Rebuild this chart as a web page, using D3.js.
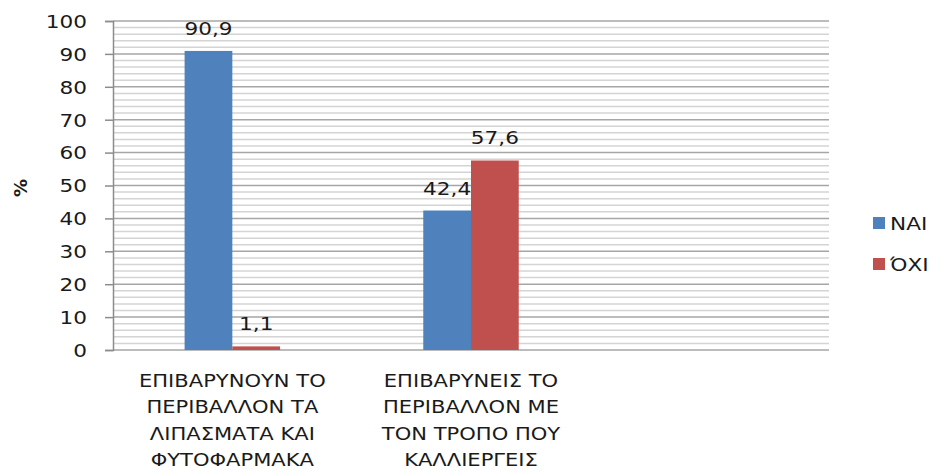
<!DOCTYPE html>
<html>
<head>
<meta charset="utf-8">
<script src="https://cdn.jsdelivr.net/npm/d3@7"></script>
<style>
  body { margin: 0; background: #fff; }
  text { font-family: "DejaVu Sans", sans-serif; fill: #1a1a1a; }
</style>
</head>
<body>
<div id="chart"></div>
<script>
// Data --------------------------------------------------------------------------------------------
const categories = [
  ["ΕΠΙΒΑΡΥΝΟΥΝ ΤΟ", "ΠΕΡΙΒΑΛΛΟΝ ΤΑ", "ΛΙΠΑΣΜΑΤΑ ΚΑΙ", "ΦΥΤΟΦΑΡΜΑΚΑ"],
  ["ΕΠΙΒΑΡΥΝΕΙΣ ΤΟ", "ΠΕΡΙΒΑΛΛΟΝ ΜΕ", "ΤΟΝ ΤΡΟΠΟ ΠΟΥ", "ΚΑΛΛΙΕΡΓΕΙΣ"],
  []
];
const seriesNames = ["ΝΑΙ", "ΌΧΙ"];
const naiValues = [90.9, 42.4, null];
const oxiValues = [1.1, 57.6, null];
const yTicks = [0, 10, 20, 30, 40, 50, 60, 70, 80, 90, 100];
const colors = ["#4f81bd", "#c0504d"];

// Canvas ------------------------------------------------------------------------------------------
const canvasWidth = 935;
const canvasHeight = 475;
const leftPadding = 113;
const rightEdge = 829;
const topPadding = 21;
const bottomEdge = 350;

const fontSize = 18;
const stretch = 1.2;      // the source text is drawn horizontally widened
const labelStretch = 1.17;

const svg = d3.select("#chart")
  .append("svg")
  .attr("width", canvasWidth)
  .attr("height", canvasHeight);

const catIndex = categories.map((d, i) => i);
const xScale = d3.scaleBand()
  .domain(catIndex)
  .range([leftPadding, rightEdge])
  .padding(0);
const xInner = d3.scaleBand()
  .domain(seriesNames)
  .range([xScale.bandwidth() * 0.3, xScale.bandwidth() * 0.7])
  .padding(0);
const yScale = d3.scaleLinear()
  .domain([0, 100])
  .range([bottomEdge, topPadding]);

// Grid --------------------------------------------------------------------------------------------
const minorTicks = d3.range(0, 101, 2).filter(v => v % 10 !== 0);
svg.append("g")
  .selectAll("line")
  .data(minorTicks)
  .join("line")
  .attr("x1", leftPadding)
  .attr("x2", rightEdge)
  .attr("y1", d => yScale(d))
  .attr("y2", d => yScale(d))
  .attr("stroke", "#d4d4d4")
  .attr("stroke-width", 1.5);

svg.append("g")
  .selectAll("line")
  .data(yTicks)
  .join("line")
  .attr("x1", leftPadding)
  .attr("x2", rightEdge)
  .attr("y1", d => yScale(d))
  .attr("y2", d => yScale(d))
  .attr("stroke", "#a6a6a6")
  .attr("stroke-width", 1.5);

// Axes --------------------------------------------------------------------------------------------
const yAxis = svg.append("g")
  .attr("transform", "translate(" + leftPadding + ",0)")
  .call(d3.axisLeft(yScale).tickValues(yTicks).tickSize(8).tickPadding(18));
yAxis.selectAll("path, line")
  .attr("stroke", "#8c8c8c")
  .attr("stroke-width", 1.5);
yAxis.selectAll("text")
  .attr("x", 0)
  .attr("dy", "0.35em")
  .attr("transform", "translate(-26,0) scale(" + stretch + ",1)")
  .style("font-family", "'DejaVu Sans', sans-serif")
  .style("font-size", fontSize + "px")
  .attr("fill", "#1a1a1a");

svg.append("text")
  .text("%")
  .attr("transform", "translate(27,188) rotate(-90)")
  .style("text-anchor", "middle")
  .style("font-size", "18px")
  .style("font-weight", "bold");

// X labels
const xLabels = svg.append("g");
categories.forEach(function(lines, i) {
  const t = xLabels.append("text")
    .attr("transform", "translate(" + (xScale(i) + xScale.bandwidth() / 2) + ",387) scale(" + labelStretch + ",1)")
    .style("text-anchor", "middle")
    .style("font-size", fontSize + "px");
  lines.forEach(function(line, j) {
    t.append("tspan")
      .attr("x", 0)
      .attr("dy", j === 0 ? 0 : 26.5)
      .text(line);
  });
});

// Bars --------------------------------------------------------------------------------------------
const series = [naiValues, oxiValues];
series.forEach(function(values, s) {
  const rows = values.map((v, i) => ({ cat: i, value: v })).filter(d => d.value !== null);
  svg.append("g")
    .selectAll("rect")
    .data(rows)
    .join("rect")
    .attr("x", d => xScale(d.cat) + xInner(seriesNames[s]))
    .attr("y", d => yScale(d.value))
    .attr("width", xInner.bandwidth())
    .attr("height", d => yScale(0) - yScale(d.value))
    .attr("fill", colors[s]);

  svg.append("g")
    .selectAll("text")
    .data(rows)
    .join("text")
    .attr("transform", d => "translate(" + (xScale(d.cat) + xInner(seriesNames[s]) + xInner.bandwidth() / 2) +
      "," + (yScale(d.value) - 16) + ") scale(" + stretch + ",1)")
    .style("text-anchor", "middle")
    .style("font-size", fontSize + "px")
    .text(d => String(d.value).replace(".", ","));
});

// Legend ------------------------------------------------------------------------------------------
const legend = svg.append("g")
  .attr("transform", "translate(873,217)");
seriesNames.forEach(function(name, i) {
  legend.append("rect")
    .attr("x", 0)
    .attr("y", i * 41)
    .attr("width", 12)
    .attr("height", 12)
    .attr("fill", colors[i]);
  legend.append("text")
    .attr("transform", "translate(17," + (i * 41 + 13) + ") scale(" + stretch + ",1)")
    .style("font-size", fontSize + "px")
    .text(name);
});
</script>
</body>
</html>
